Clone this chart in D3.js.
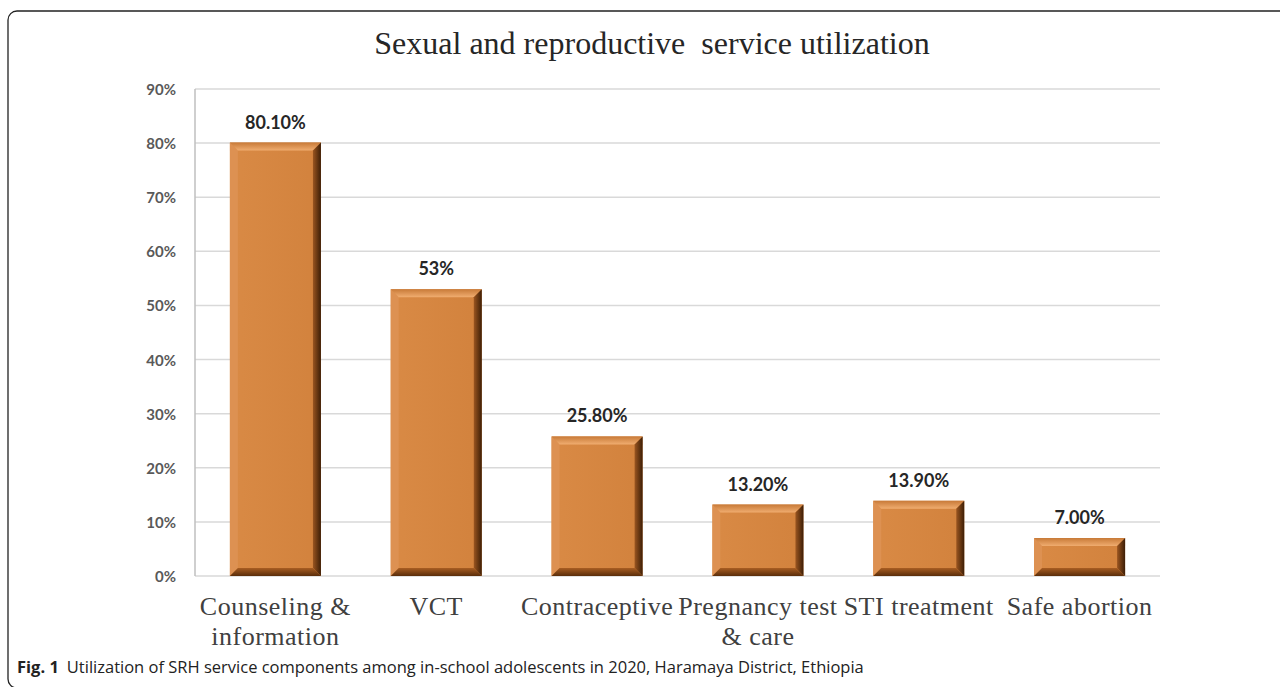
<!DOCTYPE html>
<html>
<head>
<meta charset="utf-8">
<script src="https://cdn.jsdelivr.net/npm/d3@7"></script>
<style>
  body { margin: 0; background: #fff; }
  svg { display: block; }
</style>
</head>
<body>
<div id="chart"></div>
<script>
// SRH service utilization data
var categories = ["Counseling & information", "VCT", "Contraceptive", "Pregnancy test & care", "STI treatment", "Safe abortion"];
var labelLines = [["Counseling &", "information"], ["VCT"], ["Contraceptive"], ["Pregnancy test", "& care"], ["STI treatment"], ["Safe abortion"]];
var values = [80.1, 53, 25.8, 13.2, 13.9, 7.0];
var valueLabels = ["80.10%", "53%", "25.80%", "13.20%", "13.90%", "7.00%"];
var yTicks = [0, 10, 20, 30, 40, 50, 60, 70, 80, 90];

var W = 1280, H = 687;
var margin = { top: 89, right: 120, bottom: 111, left: 195 };
var width = W - margin.left - margin.right,
    height = H - margin.top - margin.bottom;

var svg = d3.select("#chart").append("svg")
    .attr("width", W)
    .attr("height", H);

// frame round the figure
svg.append("rect")
    .attr("x", 8).attr("y", 11)
    .attr("width", 1300).attr("height", 677)
    .attr("rx", 9)
    .attr("fill", "none")
    .attr("stroke", "#222")
    .attr("stroke-width", 1.3);

// title
svg.append("text")
    .attr("x", 652).attr("y", 54)
    .attr("text-anchor", "middle")
    .style("font-family", "'Liberation Serif', 'Times New Roman', serif")
    .style("font-size", "32px")
    .style("fill", "#262626")
    .style("white-space", "pre")
    .text("Sexual and reproductive  service utilization");

var g = svg.append("g")
    .attr("transform", "translate(" + margin.left + "," + margin.top + ")");

var x = d3.scaleBand().domain(categories).range([0, width])
    .paddingInner(0.434).paddingOuter(0.217);
var y = d3.scaleLinear().domain([0, 90]).range([height, 0]);

// gridlines
g.selectAll("line.grid")
    .data(yTicks)
    .enter().append("line")
    .attr("class", "grid")
    .attr("x1", 0).attr("x2", width)
    .attr("y1", function(d) { return y(d); })
    .attr("y2", function(d) { return y(d); })
    .attr("stroke", "#d9d9d9")
    .attr("stroke-width", 1.5);

// y axis line
g.append("line")
    .attr("x1", 0).attr("x2", 0)
    .attr("y1", y(90)).attr("y2", y(0))
    .attr("stroke", "#bfbfbf")
    .attr("stroke-width", 1.5);

// y tick labels
g.selectAll("text.ytick")
    .data(yTicks)
    .enter().append("text")
    .attr("class", "ytick")
    .attr("x", -19)
    .attr("y", function(d) { return y(d) + 6; })
    .attr("text-anchor", "end")
    .style("font-family", "Lato, 'Open Sans', sans-serif")
    .style("font-weight", "bold")
    .style("font-size", "15px")
    .style("fill", "#595959")
    .text(function(d) { return d + "%"; });

// gradients for the bevelled bars
var defs = svg.append("defs");
var gMain = defs.append("linearGradient").attr("id", "barMain")
    .attr("x1", 0).attr("y1", 0).attr("x2", 1).attr("y2", 0);
gMain.append("stop").attr("offset", "0%").attr("stop-color", "#d98a45");
gMain.append("stop").attr("offset", "100%").attr("stop-color", "#d2823d");
var gTop = defs.append("linearGradient").attr("id", "barTop")
    .attr("x1", 0).attr("y1", 0).attr("x2", 0).attr("y2", 1);
gTop.append("stop").attr("offset", "0%").attr("stop-color", "#c87a38");
gTop.append("stop").attr("offset", "100%").attr("stop-color", "#f0ad70");
var gRight = defs.append("linearGradient").attr("id", "barRight")
    .attr("x1", 0).attr("y1", 0).attr("x2", 1).attr("y2", 0);
gRight.append("stop").attr("offset", "0%").attr("stop-color", "#9a5520");
gRight.append("stop").attr("offset", "100%").attr("stop-color", "#3d1e06");
var gBottom = defs.append("linearGradient").attr("id", "barBottom")
    .attr("x1", 0).attr("y1", 0).attr("x2", 0).attr("y2", 1);
gBottom.append("stop").attr("offset", "0%").attr("stop-color", "#a85d22");
gBottom.append("stop").attr("offset", "100%").attr("stop-color", "#5a2d0a");

var bev = 8;
var bars = g.selectAll("g.bar")
    .data(values)
    .enter().append("g")
    .attr("class", "bar");

function pts(arr) { return arr.map(function(p) { return p.join(","); }).join(" "); }

bars.each(function(d, i) {
    var b = d3.select(this);
    var x0 = x(categories[i]), x1 = x0 + x.bandwidth();
    var y0 = y(d), y1 = y(0);
    var e = Math.min(bev, (y1 - y0) / 3);
    b.append("rect")
        .attr("x", x0).attr("y", y0)
        .attr("width", x1 - x0).attr("height", y1 - y0)
        .attr("fill", "url(#barMain)");
    // left
    b.append("polygon")
        .attr("points", pts([[x0, y0], [x0 + e, y0 + e], [x0 + e, y1 - e], [x0, y1]]))
        .attr("fill", "#dd9152");
    // top
    b.append("polygon")
        .attr("points", pts([[x0, y0], [x1, y0], [x1 - e, y0 + e], [x0 + e, y0 + e]]))
        .attr("fill", "url(#barTop)");
    // right
    b.append("polygon")
        .attr("points", pts([[x1, y0], [x1, y1], [x1 - e, y1 - e], [x1 - e, y0 + e]]))
        .attr("fill", "url(#barRight)");
    // bottom
    b.append("polygon")
        .attr("points", pts([[x0, y1], [x1, y1], [x1 - e, y1 - e], [x0 + e, y1 - e]]))
        .attr("fill", "url(#barBottom)");
});

// value labels
g.selectAll("text.val")
    .data(values)
    .enter().append("text")
    .attr("class", "val")
    .attr("x", function(d, i) { return x(categories[i]) + x.bandwidth() / 2; })
    .attr("y", function(d) { return y(d) - 14; })
    .attr("text-anchor", "middle")
    .style("font-family", "Lato, 'Open Sans', sans-serif")
    .style("font-weight", "bold")
    .style("font-size", "18px")
    .style("fill", "#262626")
    .text(function(d, i) { return valueLabels[i]; });

// x category labels
var xl = g.selectAll("text.xlab")
    .data(categories)
    .enter().append("text")
    .attr("class", "xlab")
    .attr("text-anchor", "middle")
    .attr("transform", function(d) { return "translate(" + (x(d) + x.bandwidth() / 2) + "," + (height + 39) + ")"; })
    .style("font-family", "'Liberation Serif', 'Times New Roman', serif")
    .style("font-size", "26px")
    .style("letter-spacing", "0.5px")
    .style("fill", "#404040");

xl.selectAll("tspan")
    .data(function(d, i) { return labelLines[i]; })
    .enter().append("tspan")
    .attr("x", 0)
    .attr("dy", function(d, j) { return j === 0 ? 0 : 30; })
    .text(function(d) { return d; });

// caption
var cap = svg.append("text")
    .attr("x", 17).attr("y", 673)
    .style("font-family", "'Open Sans', 'Noto Sans', sans-serif")
    .style("font-size", "16.5px")
    .style("fill", "#222");
cap.append("tspan").style("font-weight", "bold").text("Fig. 1");
cap.append("tspan").attr("dx", 8).text("Utilization of SRH service components among in-school adolescents in 2020, Haramaya District, Ethiopia");
</script>
</body>
</html>
